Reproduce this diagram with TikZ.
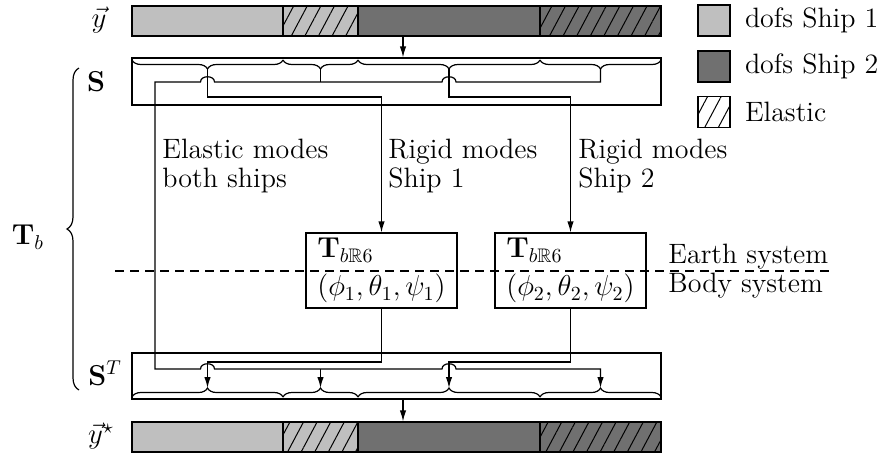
\documentclass[tikz,border=0pt]{standalone}
\usepackage{amsmath}
\usepackage{amssymb}
\usetikzlibrary{positioning,calc,fit,arrows.meta,patterns.meta,
                decorations.pathreplacing}
\colorlet{dofone}{black!25}
\colorlet{doftwo}{black!56}
\tikzset{
  >={Latex[length=5.5pt,width=3.2pt]},
  every node/.style={font=\fontsize{14}{14.5}\selectfont},
  % --- nodes
  sbox/.style   = {draw, inner sep=0pt, line width=0.6pt},
  tbox/.style   = {draw, line width=0.6pt, minimum width=75.5pt, minimum height=37.5pt,
                   align=left, inner sep=0pt},
  legbox/.style = {draw, line width=0.6pt, minimum width=16pt, minimum height=15.5pt,
                   inner sep=0pt},
  lbl/.style    = {anchor=west, align=left, inner sep=0pt},
  sym/.style    = {inner sep=0pt},
  hatch/.style  = {postaction={pattern={Lines[angle=62,distance=6pt,line width=0.5pt]}}},
  % --- edges
  wire/.style   = {line width=0.6pt},
  feed/.style   = {wire, ->},
  horizon/.style= {line width=0.6pt, dash pattern=on 4.5pt off 3pt},
  dbrace/.style = {decorate, decoration={brace, mirror, amplitude=4.5pt}, line width=0.6pt},
  ubrace/.style = {decorate, decoration={brace, amplitude=4.5pt}, line width=0.6pt},
}
\begin{document}
\begin{tikzpicture}[x=0.5pt,y=-0.5pt]
  \useasboundingbox (0,0) rectangle (888,456);

  % dof vector: ship 1 rigid | ship 1 elastic | ship 2 rigid | ship 2 elastic
  \newcommand{\dofbar}[1]{%
    \draw[wire, fill=dofone] (132,#1) rectangle (283,{#1+30});
    \draw[wire, fill=dofone, hatch] (283,#1) rectangle (358,{#1+30});
    \draw[wire, fill=doftwo] (358,#1) rectangle (540,{#1+30});
    \draw[wire, fill=doftwo, hatch] (540,#1) rectangle (661,{#1+30});}

  \dofbar{6}
  \node[sbox, fit={(132,6) (661,36)}] (ybar) {};
  \dofbar{422}
  \node[sbox, fit={(132,422) (661,452)}] (ystar) {};

  \node[sym] (ylbl) at (99,20) {$\vec{y}$};
  \node[sym] (yslbl) at (101,436) {$\vec{y}^{\star}$};

  % selection boxes
  \node[sbox, fit={(132,58) (661,105)}] (S) {};
  \node[sbox, fit={(132,353) (661,399)}] (ST) {};
  \node[sym] (Slbl) at (96,82) {$\mathbf{S}$};
  \node[sym] (STlbl) at (105,373) {$\mathbf{S}^T$};

  \draw[dbrace] (132,60) -- (283,60);
  \draw[dbrace] (283,60) -- (358,60);
  \draw[dbrace] (358,60) -- (540,60);
  \draw[dbrace] (540,60) -- (661,60);
  \draw[ubrace] (132,397) -- (283,397);
  \draw[ubrace] (283,397) -- (358,397);
  \draw[ubrace] (358,397) -- (540,397);
  \draw[ubrace] (540,397) -- (661,397);

  \coordinate (tipA) at (207.5,69);  \coordinate (botA) at (207.5,388);
  \coordinate (tipB) at (320.5,69);  \coordinate (botB) at (320.5,388);
  \coordinate (tipC) at (449,69);    \coordinate (botC) at (449,388);
  \coordinate (tipD) at (600.5,69);  \coordinate (botD) at (600.5,388);
  \coordinate (rowR) at (0,97);      \coordinate (rowRb) at (0,362);
  \coordinate (eTop) at (155,82);    \coordinate (eBot) at (155,369);

  % rotation blocks
  \node[tbox] (T1) at (381.5,270.5) {$\mathbf{T}_{b\mathbb{R}6}$\\[4.5pt]$(\phi_1,\theta_1,\psi_1)$};
  \node[tbox] (T2) at (570.5,270.5) {$\mathbf{T}_{b\mathbb{R}6}$\\[4.5pt]$(\phi_2,\theta_2,\psi_2)$};

  % frame change
  \coordinate (hzL) at (115,271);  \coordinate (hzR) at (835,271);
  \draw[horizon] (hzL) -- (hzR);
  \node[lbl, anchor=base west] (earth) at (668,263) {Earth system};
  \node[lbl, anchor=base west] (body) at (668,292) {Body system};

  % rigid modes
  \draw[feed] (tipA) |- (rowR -| T1.north) -- (T1.north);
  \draw[feed] (tipC) |- (rowR -| T2.north) -- (T2.north);
  \draw[feed] (T1.south) |- (rowRb -| botA) -- (botA);
  \draw[feed] (T2.south) |- (rowRb -| botC) -- (botC);

  % elastic modes bypass the rotation
  \draw[wire] (tipB) -- (tipB |- eTop);
  \draw[feed] (tipD) |- ($(eTop -| tipC)+(7,0)$)
    .. controls +(0,-7) and +(0,-7) .. ($(eTop -| tipC)+(-7,0)$)
    -- ($(eTop -| tipA)+(7,0)$)
    .. controls +(0,-7) and +(0,-7) .. ($(eTop -| tipA)+(-7,0)$)
    -- (eTop) -- (eBot)
    -- ($(eBot -| botA)+(-7,0)$)
    .. controls +(0,-7) and +(0,-7) .. ($(eBot -| botA)+(7,0)$)
    -- ($(eBot -| botC)+(-7,0)$)
    .. controls +(0,-7) and +(0,-7) .. ($(eBot -| botC)+(7,0)$)
    -| (botD);
  \draw[feed] (eBot -| botB) -- (botB);

  \node[lbl] (elasLbl) at (162,166) {Elastic modes\\both ships};
  \node[lbl] (rig1Lbl) at (388,166) {Rigid modes\\Ship 1};
  \node[lbl] (rig2Lbl) at (578,166) {Rigid modes\\Ship 2};

  % in and out of the selection
  \coordinate (feedx) at (403,0);
  \draw[feed] (ybar.south -| feedx) -- (S.north -| feedx);
  \draw[feed] (ST.south -| feedx) -- (ystar.north -| feedx);

  % whole transformation
  \draw[decorate, decoration={brace, amplitude=6pt}, line width=0.6pt] (79,390) -- (79,68);
  \node[sym] (Tb) at (28,237) {$\mathbf{T}_b$};

  % legend
  \node[legbox, fill=dofone] (k1) at (714,20.5) {};
  \node[legbox, fill=doftwo] (k2) at (714,66.5) {};
  \node[legbox, pattern={Lines[angle=62,distance=6pt,line width=0.5pt]}] (k3) at (714,112) {};
  \node[lbl, right=7pt of k1] (k1lbl) {dofs Ship 1};
  \node[lbl, right=7pt of k2] (k2lbl) {dofs Ship 2};
  \node[lbl, right=7pt of k3] (k3lbl) {Elastic};
\end{tikzpicture}
\end{document}
